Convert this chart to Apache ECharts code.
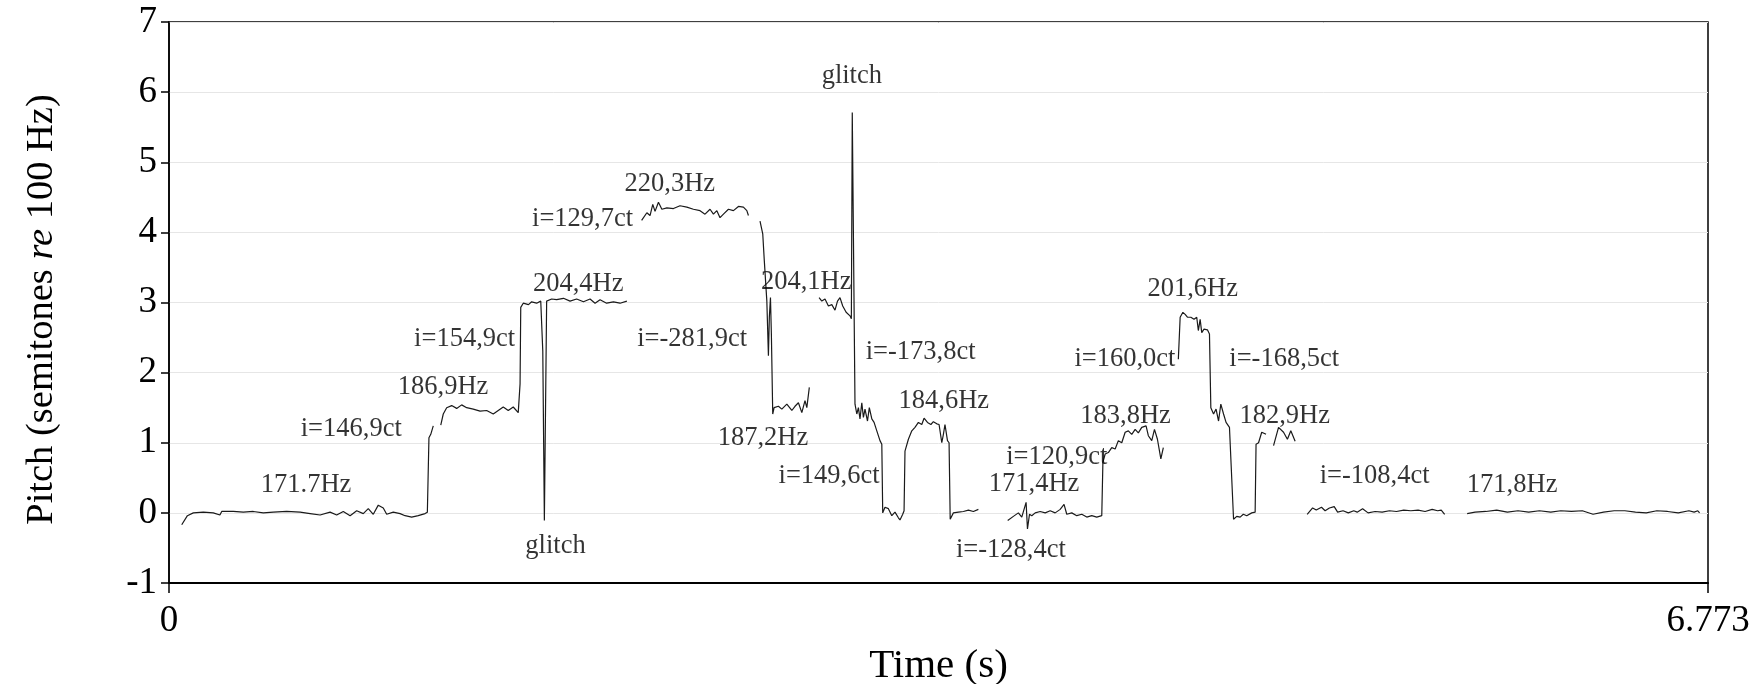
<!DOCTYPE html>
<html>
<head>
<meta charset="utf-8">
<script src="https://cdn.jsdelivr.net/npm/echarts@6/dist/echarts.min.js"></script>
<style>
  html, body { margin: 0; padding: 0; background: #fff; }
  #chart { width: 1760px; height: 684px; }
</style>
</head>
<body>
<div id="chart"></div>
<script>
// Pitch track: time in seconds, pitch in semitones re 100 Hz (null = unvoiced gap)
const time = [
  0.056, 0.063, 0.081, 0.107, 0.151, 0.195, 0.224, 0.232, 0.283, 0.327, 0.371, 0.415, 0.459, 0.518,
  0.577, 0.621, 0.665, 0.709, 0.738, 0.767, 0.797, 0.826, 0.855, 0.877, 0.899, 0.921, 0.943, 0.958,
  0.987, 1.017, 1.039, 1.068, 1.097, 1.127, 1.137, 1.144, 1.152, 1.163,
  1.180,
  1.196, 1.207, 1.222, 1.244, 1.266, 1.288, 1.310, 1.339, 1.369, 1.398, 1.427, 1.449, 1.471, 1.493,
  1.515, 1.537, 1.545, 1.548, 1.559, 1.582, 1.596, 1.618, 1.636, 1.645, 1.652, 1.662, 1.684, 1.706,
  1.736, 1.765, 1.794, 1.824, 1.853, 1.875, 1.897, 1.926, 1.956, 1.985, 2.015,
  2.050,
  2.080, 2.103, 2.117, 2.129, 2.139, 2.154, 2.169, 2.191, 2.220, 2.249, 2.279, 2.308, 2.337, 2.359,
  2.381, 2.396, 2.411, 2.425, 2.440, 2.462, 2.484, 2.506, 2.528, 2.543, 2.550,
  2.575,
  2.601, 2.613, 2.620, 2.631, 2.638, 2.642, 2.647, 2.651, 2.657, 2.663, 2.682, 2.697, 2.719, 2.741,
  2.755, 2.770, 2.785, 2.799, 2.807, 2.818,
  2.840,
  2.861, 2.873, 2.887, 2.902, 2.917, 2.931, 2.942, 2.953, 2.965, 2.980, 2.997, 3.003, 3.007, 3.019,
  3.027, 3.034, 3.041, 3.049, 3.056, 3.063, 3.074, 3.082, 3.093, 3.103, 3.115, 3.129, 3.137, 3.141,
  3.151, 3.166, 3.181, 3.195, 3.210, 3.217, 3.229, 3.235, 3.239, 3.254, 3.269, 3.283, 3.298, 3.313,
  3.323, 3.338, 3.353, 3.364, 3.379, 3.389, 3.401, 3.408, 3.415, 3.426, 3.433, 3.438, 3.452, 3.474,
  3.496, 3.518, 3.540, 3.562,
  3.620,
  3.691, 3.716, 3.738, 3.753, 3.772, 3.778, 3.787, 3.797, 3.812, 3.834, 3.856, 3.878, 3.900, 3.922,
  3.939, 3.951, 3.973, 3.995, 4.017, 4.039, 4.061, 4.083, 4.105, 4.110, 4.120, 4.134, 4.149, 4.164,
  4.178, 4.193, 4.208, 4.222, 4.237, 4.252, 4.266, 4.281, 4.300, 4.310, 4.325, 4.337, 4.350, 4.365,
  4.376,
  4.410,
  4.442, 4.450, 4.462, 4.472, 4.482, 4.497, 4.511, 4.523, 4.530, 4.538, 4.545, 4.555, 4.570, 4.579,
  4.585, 4.597, 4.608, 4.619, 4.629, 4.641, 4.652, 4.667, 4.685, 4.699, 4.714, 4.728, 4.743, 4.765,
  4.780, 4.784, 4.795, 4.809, 4.828,
  4.845,
  4.861, 4.883, 4.905, 4.922, 4.937, 4.956,
  4.980,
  5.009, 5.033, 5.049, 5.072, 5.088, 5.107, 5.128, 5.143, 5.167, 5.190, 5.214, 5.229, 5.253, 5.277,
  5.308, 5.339, 5.371, 5.402, 5.434, 5.465, 5.497, 5.528, 5.559, 5.583, 5.599, 5.614,
  5.660,
  5.713, 5.748, 5.795, 5.843, 5.890, 5.937, 5.984, 6.031, 6.081, 6.125, 6.172, 6.220, 6.267, 6.313,
  6.360, 6.407, 6.454, 6.501, 6.548, 6.595, 6.642, 6.689, 6.712, 6.728, 6.736
];
const pitch = [
  -0.17, -0.15, -0.04, 0.00, 0.01, 0.00, -0.03, 0.02, 0.02, 0.01, 0.02, 0.00, 0.01, 0.02,
  0.01, -0.01, -0.03, 0.01, -0.03, 0.02, -0.04, 0.03, -0.01, 0.06, -0.02, 0.11, 0.07, -0.02,
  0.01, -0.01, -0.04, -0.06, -0.04, -0.01, 0.01, 1.07, 1.12, 1.24,
  null,
  1.25, 1.41, 1.50, 1.53, 1.49, 1.54, 1.50, 1.48, 1.45, 1.46, 1.41, 1.46, 1.51, 1.46,
  1.51, 1.43, 1.84, 2.93, 2.99, 2.97, 3.01, 2.99, 3.02, 2.31, -0.11, 3.02, 3.05, 3.04,
  3.06, 3.02, 3.05, 3.01, 3.05, 2.99, 3.04, 2.99, 3.01, 2.99, 3.02,
  null,
  4.17, 4.28, 4.24, 4.40, 4.30, 4.43, 4.33, 4.35, 4.34, 4.38, 4.36, 4.33, 4.31, 4.26,
  4.33, 4.26, 4.31, 4.21, 4.26, 4.33, 4.31, 4.37, 4.36, 4.31, 4.24,
  null,
  4.16, 3.98, 3.59, 3.02, 2.24, 2.79, 3.07, 2.55, 1.41, 1.50, 1.52, 1.48, 1.55, 1.46,
  1.52, 1.57, 1.43, 1.60, 1.50, 1.79,
  null,
  3.07, 3.02, 3.05, 2.95, 2.97, 2.89, 3.02, 3.07, 2.95, 2.86, 2.81, 2.77, 5.71, 1.55,
  1.41, 1.50, 1.34, 1.57, 1.36, 1.48, 1.31, 1.50, 1.34, 1.29, 1.17, 1.03, 0.98, 0.00,
  0.08, 0.06, -0.04, 0.01, -0.07, -0.10, -0.02, 0.03, 0.88, 1.05, 1.17, 1.22, 1.29, 1.26,
  1.35, 1.29, 1.26, 1.30, 1.27, 1.26, 1.00, 1.12, 1.26, 1.03, 1.00, -0.09, 0.00, 0.01,
  0.02, 0.04, 0.02, 0.05,
  null,
  -0.11, -0.05, 0.00, -0.06, 0.15, -0.23, -0.02, -0.04, 0.00, 0.02, 0.00, 0.03, 0.00, 0.05,
  0.12, -0.02, 0.00, -0.04, -0.02, -0.06, -0.04, -0.06, -0.04, 0.72, 0.84, 0.86, 0.93, 0.91,
  1.03, 1.00, 1.15, 1.17, 1.12, 1.19, 1.14, 1.22, 1.24, 1.10, 1.03, 1.19, 1.05, 0.77,
  0.93,
  null,
  2.19, 2.79, 2.86, 2.83, 2.79, 2.79, 2.76, 2.79, 2.60, 2.76, 2.57, 2.62, 2.61, 2.55,
  1.50, 1.41, 1.48, 1.31, 1.55, 1.41, 1.29, 1.22, -0.09, -0.05, -0.06, -0.02, -0.04, 0.00,
  0.01, 0.98, 1.00, 1.15, 1.12,
  null,
  0.96, 1.22, 1.15, 1.05, 1.17, 1.02,
  null,
  -0.02, 0.07, 0.04, 0.08, 0.03, 0.07, 0.09, 0.01, 0.03, 0.00, 0.03, 0.01, 0.06, 0.00,
  0.02, 0.01, 0.03, 0.02, 0.04, 0.03, 0.04, 0.02, 0.05, 0.03, 0.04, -0.02,
  null,
  -0.01, 0.01, 0.02, 0.04, 0.01, 0.03, 0.01, 0.03, 0.01, 0.03, 0.02, 0.03, -0.02, 0.01,
  0.03, 0.03, 0.01, 0.00, 0.03, 0.02, 0.00, 0.03, 0.01, 0.03, 0.00
];

// Annotations: text, time (s), pitch (st) of the text centre
const noteLabels = [
  '171.7Hz', 'i=146,9ct', '186,9Hz', 'i=154,9ct', '204,4Hz', 'glitch', 'i=129,7ct', '220,3Hz',
  'i=-281,9ct', '204,1Hz', '187,2Hz', 'glitch', 'i=-173,8ct', 'i=149,6ct', '184,6Hz', '171,4Hz',
  'i=-128,4ct', 'i=120,9ct', '183,8Hz', 'i=160,0ct', '201,6Hz', 'i=-168,5ct', '182,9Hz',
  'i=-108,4ct', '171,8Hz'
];
const noteTimes = [
  0.603, 0.802, 1.206, 1.301, 1.801, 1.701, 1.820, 2.204,
  2.302, 2.804, 2.614, 3.005, 3.308, 2.905, 3.410, 3.807,
  3.705, 3.907, 4.210, 4.207, 4.505, 4.908, 4.910,
  5.306, 5.911
];
const notePitches = [
  0.40, 1.20, 1.79, 2.48, 3.27, -0.48, 4.19, 4.69,
  2.48, 3.29, 1.07, 6.23, 2.29, 0.52, 1.60, 0.41,
  -0.525, 0.79, 1.38, 2.19, 3.19, 2.19, 1.38,
  0.52, 0.40
];

const yTicks = [-1, 0, 1, 2, 3, 4, 5, 6, 7];
const xEnd = 6.773;

const SERIF = '"Liberation Serif", "Times New Roman", serif';

const chart = echarts.init(document.getElementById('chart'), null, { renderer: 'canvas' });

const trackData = time.map((t, i) => [t, pitch[i] === null ? null : pitch[i]]);
const noteData = noteTimes.map((t, i) => [t, notePitches[i]]);

chart.setOption({
  animation: false,
  backgroundColor: '#ffffff',
  grid: {
    left: 169, right: 52, top: 22, bottom: 101,
    outerBoundsMode: 'none',
    containLabel: false,
    show: true, borderColor: '#000', borderWidth: 1.5, backgroundColor: 'transparent'
  },
  xAxis: {
    type: 'value',
    min: 0, max: xEnd, interval: xEnd,
    name: 'Time (s)',
    nameLocation: 'middle',
    nameGap: 63,
    nameTextStyle: { fontFamily: SERIF, fontSize: 41, color: '#000' },
    axisLine: { show: true, onZero: false, lineStyle: { color: '#000', width: 2 } },
    axisTick: { show: true, inside: false, length: 10, lineStyle: { color: '#000', width: 1.5 } },
    axisLabel: {
      fontFamily: SERIF, fontSize: 37, color: '#000', margin: 20,
      showMinLabel: true, showMaxLabel: true,
      formatter: v => (v === 0 ? '0' : xEnd.toFixed(3))
    },
    splitLine: { show: false }
  },
  yAxis: {
    type: 'value',
    min: yTicks[0], max: yTicks[yTicks.length - 1], interval: 1,
    name: '{n|Pitch (semitones }{i|re}{n| 100 Hz)}',
    nameLocation: 'middle',
    nameGap: 108,
    nameRotate: 90,
    nameTextStyle: {
      padding: [0, 14, 0, 0],
      rich: {
        n: { fontFamily: SERIF, fontSize: 38.5, color: '#000' },
        i: { fontFamily: SERIF, fontSize: 38.5, fontStyle: 'italic', color: '#000' }
      }
    },
    axisLine: { show: true, onZero: false, lineStyle: { color: '#000', width: 1.5 } },
    axisTick: { show: true, inside: false, length: 8, lineStyle: { color: '#000', width: 1.5 } },
    axisLabel: { fontFamily: SERIF, fontSize: 37, color: '#000', margin: 12 },
    splitLine: { show: true, lineStyle: { color: '#e6e6e6', width: 1 } }
  },
  series: [
    {
      name: 'pitch',
      type: 'line',
      data: trackData,
      showSymbol: false,
      connectNulls: false,
      lineStyle: { color: '#1a1a1a', width: 1.2 },
      silent: true,
      z: 3
    },
    {
      name: 'notes',
      type: 'scatter',
      data: noteData,
      symbolSize: 1,
      itemStyle: { color: 'rgba(0,0,0,0)' },
      silent: true,
      label: {
        show: true,
        position: 'inside',
        formatter: p => noteLabels[p.dataIndex],
        fontFamily: SERIF,
        fontSize: 26.5,
        color: '#000',
        align: 'center',
        verticalAlign: 'middle'
      },
      z: 4
    }
  ]
});
</script>
</body>
</html>
